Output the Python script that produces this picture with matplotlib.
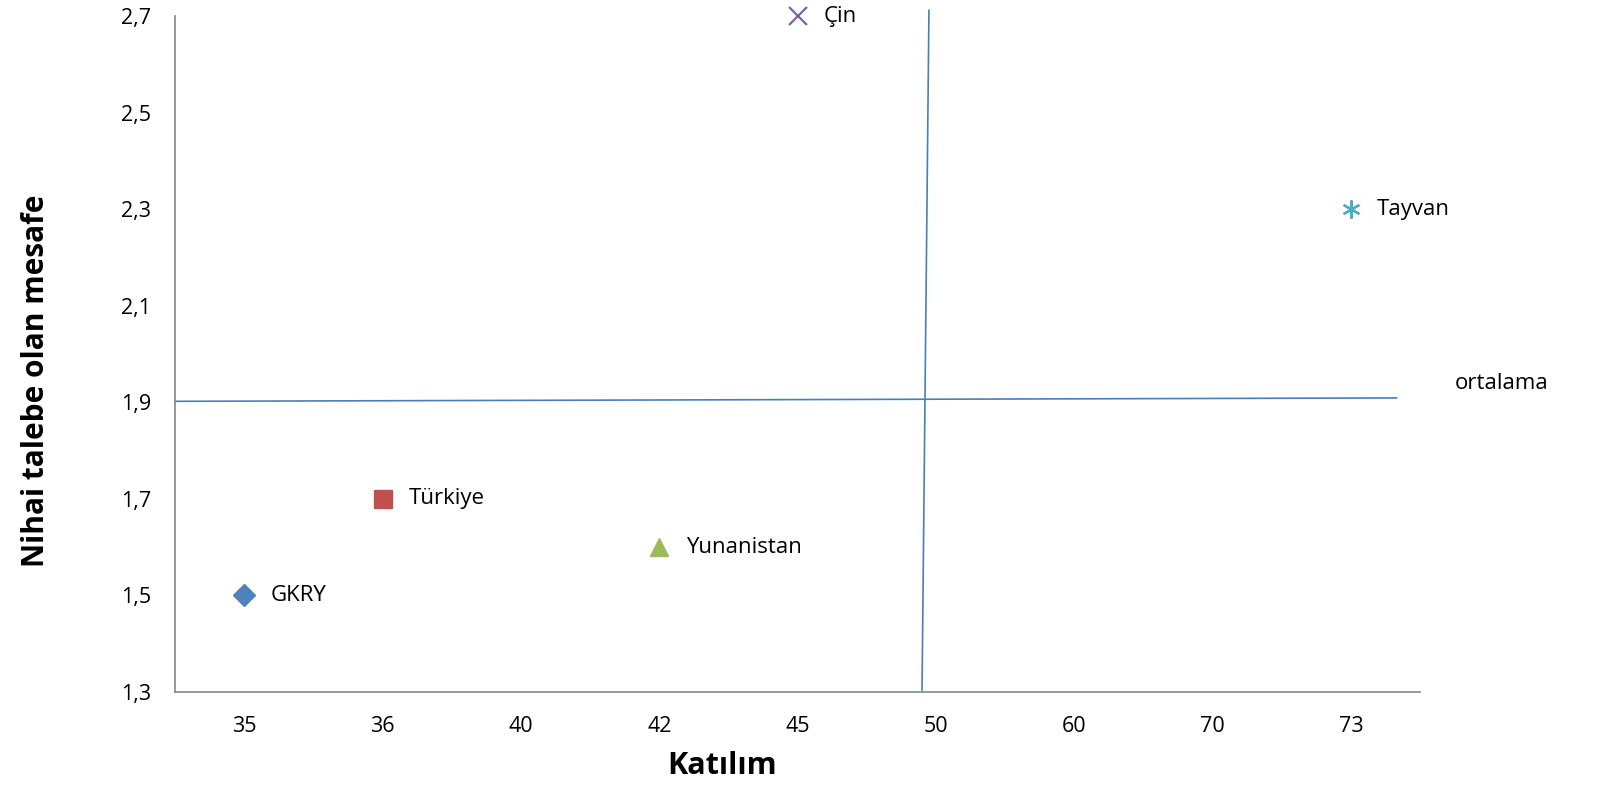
import matplotlib
matplotlib.use('Agg')
import matplotlib.pyplot as plt

plt.rcParams['font.family'] = ['Open Sans', 'DejaVu Sans']

# x axis is a category axis in the original chart
x_ticks = ['35', '36', '40', '42', '45', '50', '60', '70', '73']
y_ticks = [1.3, 1.5, 1.7, 1.9, 2.1, 2.3, 2.5, 2.7]
y_tick_labels = ['1,3', '1,5', '1,7', '1,9', '2,1', '2,3', '2,5', '2,7']

countries = ['GKRY', 'Türkiye', 'Yunanistan', 'Çin', 'Tayvan']
katilim = ['35', '36', '42', '45', '73']
mesafe = [1.5, 1.7, 1.6, 2.7, 2.3]
markers = ['D', 's', '^', 'x', (6, 2, 0)]
colors = ['#4F81BD', '#C0504D', '#9BBB59', '#8064A2', '#4BACC6']

# "ortalama" lines (hand drawn in the original, slightly tilted)
h_line_x = [-0.5, 8.33]
h_line_y = [1.902, 1.909]
v_line_x = [4.95, 4.90]
v_line_y = [2.712, 1.304]

fig = plt.figure(figsize=(16.12, 8.02), dpi=100)
ax = fig.add_axes([0.1086, 0.1372, 0.7723, 0.8428])

for name, xv, yv, m, c in zip(countries, katilim, mesafe, markers, colors):
    xi = x_ticks.index(xv)
    if m == 'x' or isinstance(m, tuple):
        ax.plot(xi, yv, marker=m, color=c, ms=13, mew=1.6, ls='none', clip_on=False)
    else:
        ms = 11 if m == 'D' else 13
        ax.plot(xi, yv, marker=m, color=c, ms=ms, mec=c, ls='none', clip_on=False)
    ax.annotate(name, (xi, yv), xytext=(19, 0), textcoords='offset points',
                va='center', ha='left', fontsize=16, color='#000000')

ax.plot(h_line_x, h_line_y, color='#4A7EBB', lw=1.2, clip_on=False)
ax.plot(v_line_x, v_line_y, color='#4A7EBB', lw=1.2, clip_on=False)
ax.text(8.75, 1.938, 'ortalama', fontsize=16, va='center', ha='left')

ax.set_xlim(-0.5, 8.5)
ax.set_ylim(1.3, 2.7)
ax.set_xticks(range(len(x_ticks)))
ax.set_xticklabels(x_ticks)
ax.set_yticks(y_ticks)
ax.set_yticklabels(y_tick_labels)
ax.tick_params(length=0, labelsize=15.5, pad=17)

for s in ['top', 'right']:
    ax.spines[s].set_visible(False)
for s in ['left', 'bottom']:
    ax.spines[s].set_color('#868686')
    ax.spines[s].set_linewidth(1.2)

ax.set_xlabel('Katılım', fontsize=22, fontweight='bold')
ax.xaxis.set_label_coords(0.439, -0.088)
ax.set_ylabel('Nihai talebe olan mesafe', fontsize=21.5, fontweight='bold')
ax.yaxis.set_label_coords(-0.100, 0.46)

fig.savefig('out.png', dpi=100)
